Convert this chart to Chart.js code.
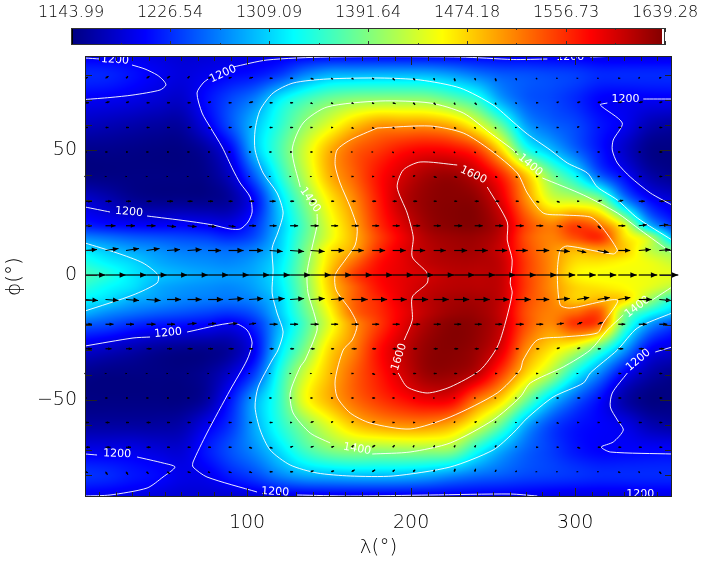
<!DOCTYPE html>
<html>
<head>
<meta charset="utf-8">
<style>
  html, body { margin: 0; padding: 0; background: #fff; }
  #wrap { position: relative; width: 707px; height: 565px; }
  canvas { position: absolute; left: 0; top: 0; }
</style>
<script src="https://cdn.jsdelivr.net/npm/chart.js@4"></script>
</head>
<body>
<div id="wrap">
  <canvas id="mapChart" width="707" height="565"></canvas>
  <canvas id="barChart" width="707" height="50"></canvas>
</div>
<script>
const colorTicks = [1143.99, 1226.54, 1309.09, 1391.64, 1474.18, 1556.73, 1639.28];

const lons = [0,15,30,45,60,75,90,105,120,135,150,165,180,195,210,225,240,255,270,285,300,315,330,345,360];
const lats = [88,80,70,60,50,40,30,20,15,10,5,0,-5,-10,-15,-20,-30,-40,-50,-60,-70,-80,-88];
const temps = [
  [1195,1195,1195,1190,1185,1185,1190,1192,1195,1197,1198,1198,1198,1198,1198,1198,1199,1199,1199,1198,1196,1192,1190,1190,1190],
  [1225,1222,1212,1200,1190,1197,1207,1215,1235,1270,1292,1295,1297,1297,1295,1283,1265,1250,1245,1240,1235,1225,1225,1225,1225],
  [1200,1198,1193,1185,1180,1210,1240,1270,1325,1360,1385,1399,1403,1403,1400,1380,1350,1285,1250,1240,1225,1205,1200,1200,1200],
  [1175,1170,1165,1160,1160,1195,1245,1300,1350,1400,1440,1480,1505,1505,1505,1490,1445,1375,1285,1255,1240,1215,1198,1170,1160],
  [1150,1150,1148,1146,1146,1160,1205,1300,1365,1430,1490,1530,1550,1570,1580,1575,1550,1470,1350,1300,1255,1215,1180,1150,1146],
  [1146,1146,1146,1146,1146,1150,1180,1255,1345,1420,1490,1530,1570,1598,1620,1625,1605,1560,1480,1390,1330,1250,1205,1165,1150],
  [1185,1170,1155,1150,1150,1150,1160,1210,1310,1390,1460,1510,1565,1610,1630,1635,1630,1590,1510,1440,1425,1395,1275,1210,1185],
  [1220,1210,1205,1203,1205,1200,1195,1230,1300,1370,1440,1495,1555,1595,1625,1635,1635,1610,1545,1515,1545,1520,1440,1297,1225],
  [1270,1260,1250,1245,1240,1235,1225,1245,1305,1375,1440,1490,1545,1585,1615,1625,1625,1605,1540,1515,1540,1555,1470,1420,1290],
  [1320,1300,1285,1275,1265,1262,1258,1270,1310,1385,1460,1497,1555,1590,1610,1620,1620,1600,1545,1510,1490,1500,1480,1425,1390],
  [1345,1325,1310,1290,1280,1275,1272,1285,1320,1390,1470,1525,1570,1590,1608,1615,1615,1605,1550,1510,1470,1465,1455,1445,1425],
  [1365,1345,1320,1302,1292,1285,1282,1290,1325,1395,1480,1545,1575,1590,1600,1610,1610,1605,1550,1510,1460,1450,1450,1445,1440],
  [1350,1330,1315,1290,1280,1275,1272,1285,1320,1390,1475,1530,1570,1590,1605,1612,1612,1605,1550,1510,1475,1465,1455,1440,1415],
  [1325,1312,1290,1280,1270,1265,1262,1272,1310,1385,1465,1530,1560,1590,1610,1620,1620,1605,1545,1515,1480,1490,1470,1405,1340],
  [1295,1275,1262,1252,1245,1238,1232,1250,1305,1375,1450,1525,1555,1585,1610,1625,1625,1603,1540,1515,1525,1535,1400,1340,1300],
  [1250,1240,1225,1215,1210,1205,1197,1225,1295,1365,1440,1505,1550,1590,1620,1635,1630,1605,1540,1510,1550,1530,1370,1280,1235],
  [1185,1175,1165,1155,1150,1150,1160,1205,1315,1390,1470,1515,1570,1605,1630,1635,1625,1590,1510,1465,1425,1360,1280,1205,1185],
  [1150,1146,1146,1146,1146,1155,1185,1240,1345,1430,1485,1530,1565,1598,1625,1625,1605,1545,1470,1410,1330,1265,1200,1165,1150],
  [1146,1146,1146,1146,1146,1160,1215,1290,1355,1445,1490,1525,1550,1570,1585,1580,1520,1470,1385,1305,1250,1210,1165,1146,1146],
  [1160,1160,1160,1160,1165,1195,1230,1290,1345,1395,1440,1480,1500,1508,1508,1490,1440,1375,1290,1240,1215,1205,1195,1170,1160],
  [1195,1195,1195,1188,1185,1215,1245,1275,1315,1360,1390,1402,1402,1405,1405,1398,1340,1290,1255,1235,1215,1205,1205,1205,1205],
  [1230,1225,1215,1208,1195,1198,1220,1240,1270,1290,1296,1300,1300,1298,1290,1275,1260,1250,1240,1235,1230,1225,1225,1225,1225],
  [1200,1198,1195,1190,1185,1185,1185,1190,1195,1197,1199,1199,1200,1200,1200,1200,1200,1200,1199,1196,1194,1194,1194,1196,1196]
];

// wind grid, arrow tails sit on these
const windLons = [1.25,13.75,26.25,38.75,51.25,63.75,76.25,88.75,101.25,113.75,126.25,138.75,151.25,163.75,176.25,188.75,201.25,213.75,226.25,238.75,251.25,263.75,276.25,288.75,301.25,313.75,326.25,338.75,351.25];
const windLats = [78.7,68.9,59,49.2,39.4,29.5,19.7,9.8,0,-9.8,-19.7,-29.5,-39.4,-49.2,-59,-68.9,-78.7];
const windU = [
  [3,3,2,3,3,2,3,3,4,3,3,3,2,2,2,2,2,1,1,1,1,1,1,1,1,1,2,1,2],
  [4,4,3,3,3,3,3,3,4,3,3,2,2,2,2,3,2,2,1,2,1,1,2,2,3,3,4,4,3],
  [3,3,3,3,3,3,3,3,3,3,3,2,2,2,2,2,2,1,2,1,1,1,2,2,2,2,3,3,3],
  [2,2,2,2,2,2,2,2,2,2,2,2,1,1,1,1,1,1,1,1,1,1,1,1,1,2,2,2,3],
  [1,1,1,1,1,1,1,1,1,1,1,1,1,2,2,2,2,3,3,3,2,2,2,1,1,2,3,3,3],
  [7,6,5,5,6,5,5,4,5,6,4,4,3,4,4,4,4,3,3,4,4,3,3,3,2,4,5,6,5],
  [7,10,9,9,9,9,8,7,7,7,8,8,7,7,7,7,7,7,8,8,8,8,7,6,4,3,7,8,9],
  [12,13,13,13,13,14,13,15,14,13,14,14,13,12,13,13,12,12,13,13,12,12,13,13,9,11,12,12,11],
  [20.5,20.5,20.5,20.5,20.5,20.5,20.5,20.5,20.5,20.5,20.5,20.5,20.5,20.5,20.5,20.5,20.5,20.5,20.5,20.5,20.5,20.5,20.5,18.5,18.5,18.5,18.5,18.5,19],
  [13,13,13,14,14,14,15,15,14,15,14,14,13,16,15,14,15,15,15,15,14,15,13,13,12,12,12,13,12],
  [7,8,8,9,8,9,8,9,7,8,8,8,7,7,7,7,7,7,7,7,7,8,7,7,5,5,7,8,8],
  [7,6,6,5,5,5,5,5,4,4,4,4,3,5,4,4,4,4,4,4,3,3,3,3,3,3,5,5,5],
  [1,1,1,1,1,1,1,1,1,1,1,1,1,2,3,3,3,3,3,2,2,2,2,1,1,1,3,3,3],
  [2,2,2,2,2,2,2,2,2,2,2,2,2,2,3,2,2,1,1,1,1,1,2,2,3,3,3,2,3],
  [4,4,3,4,3,3,3,3,3,3,2,3,2,2,3,2,2,1,1,2,1,1,2,2,2,2,3,3,3],
  [5,5,5,4,3,3,3,3,3,3,3,3,3,2,3,2,1,1,1,1,1,1,2,2,3,3,3,3,3],
  [3,2,2,2,3,3,2,3,3,3,3,3,3,3,3,2,2,1,1,1,1,1,1,1,1,1,2,1,2]
];
const windV = [
  [1,2,2,2,2,2,1,1,1,0,0,-1,-1,-1,-1,-2,-2,-2,-3,-2,-3,-2,-1,0,0,0,0,1,1],
  [0,1,1,0,0,0,1,0,1,0,0,-1,-1,-1,-1,-1,-2,-2,-2,-2,-2,-1,0,1,1,1,1,1,1],
  [0,0,0,0,0,0,-1,0,1,0,0,0,0,-1,-1,-1,-1,-1,-1,-1,-1,0,0,0,1,0,0,0,0],
  [0,0,0,0,0,0,0,0,0,0,0,0,0,0,0,-1,-1,-1,-1,-1,0,0,0,0,0,0,0,0,0],
  [0,0,0,0,0,0,0,0,0,0,0,0,0,0,0,0,1,-1,-1,0,-1,-1,0,0,0,0,0,0,0],
  [0,0,0,0,0,0,0,0,0,0,0,0,0,0,0,0,0,0,0,0,0,0,-1,-1,0,1,1,0,0],
  [0,0,0,0,-1,-1,-1,-1,0,0,0,0,0,0,0,0,0,0,0,0,0,0,0,-1,-2,-3,0,1,1],
  [1,2,2,2,1,1,0,0,0,-1,-1,-1,0,0,0,0,0,0,0,0,0,0,0,-1,-2,-2,0,1,1],
  [0,0,0,0,0,0,0,0,0,0,0,0,0,0,0,0,0,0,0,0,0,0,0,0,0,0,0,0,0],
  [-1,-1,-1,-1,0,0,0,1,1,1,1,1,1,0,0,0,0,0,0,0,0,0,0,1,2,2,2,0,-1],
  [0,0,0,0,0,1,1,1,1,0,0,0,0,0,0,0,0,0,0,0,0,0,0,1,2,2,0,0,0],
  [0,0,0,0,0,0,0,0,0,0,0,0,0,0,0,0,0,0,0,0,0,0,0,1,1,0,0,0,0],
  [0,0,0,0,0,0,0,0,0,0,0,0,0,0,-1,-1,0,0,0,0,0,0,0,0,0,0,0,0,0],
  [0,0,0,0,0,0,0,0,0,0,0,0,0,0,0,0,0,0,0,0,0,0,0,0,0,0,0,0,0],
  [0,0,0,0,0,0,0,0,0,0,0,1,1,1,1,0,0,0,1,1,1,0,0,-1,0,0,0,0,0],
  [0,0,0,0,0,0,0,0,-1,-1,1,1,1,2,2,2,2,2,2,2,2,1,0,0,-1,0,0,0,0],
  [-1,-3,-3,-2,-2,-1,-1,-1,-1,0,0,1,1,2,2,2,2,2,3,3,2,1,0,0,0,0,-1,-1,-2]
];

// contours as [lon, lat]
const contour1200 = [
  [[1.25,86.8],[10.4,86.4]],
  [[29.9,84],[37.8,82.4],[45.2,80],[48.8,78],[50.6,76],[47,74],[30.5,72],[16.5,71],[1.25,70.2]],
  [[91.5,83.2],[112.2,86],[148.8,87.2],[229.9,87.2],[262.2,86.2],[283,86.4]],
  [[309.2,87.2],[319,87.4]],
  [[76.3,78.4],[73.2,76.8],[69.5,72.8],[72.6,64.8],[77.5,59.2],[84.8,51.2],[91.5,42],[95.8,36.8],[101.9,31.2],[103.1,25.2],[100.6,21.2],[95.8,18.4],[89.7,18.4],[79.3,20],[63.5,21.6],[39.1,23.6]],
  [[16.5,25.2],[1.25,27.2]],
  [[359,70.4],[341.5,70.4]],
  [[319.6,68.8],[315.3,68],[328.7,60.8],[323.2,54],[322.6,50],[325.7,44.8],[333.6,39.2],[345.8,32.8],[359,28]],
  [[1.25,-28.4],[30.5,-25.2],[40.9,-24.8]],
  [[63.5,-22.8],[91.5,-19.2],[100,-22],[103.1,-27.2],[100,-34],[89.7,-46],[75.6,-63.2],[67.1,-74.8],[67.1,-76.8],[75.6,-80.8],[106.1,-86.8]],
  [[130.5,-88],[162.9,-88.4],[211.6,-88],[260.4,-87.6],[276.9,-88.4]],
  [[1.25,-71.6],[8.6,-72]],
  [[33,-72.8],[48.8,-75.2],[56.1,-76.8],[48.8,-80.8],[39.1,-85.2],[16.5,-88],[1.25,-88.4]],
  [[359,-28.8],[348.8,-30.8]],
  [[331.8,-39.2],[322.6,-47.2],[321.4,-52.8],[325.7,-58],[329.3,-62],[323.2,-66.8],[315.9,-68.8],[321.4,-70.8],[359,-71.6]]
];
const contour1300 = [
  [[1.25,12.8],[20.8,8.8],[36.6,4.8],[45.8,0],[45.2,-3.2],[30.5,-8],[1.25,-14.4]],
  [[359,14],[337.9,22.8],[325.7,30],[313.5,35.2],[307.4,40.8],[295.2,44.8],[284.8,50],[270.8,56.4],[262.2,61.2],[250,68],[229.9,74.8],[205.5,78],[181.1,78.8],[148.8,78.4],[128.1,76.8],[115.9,72.8],[108,66],[104.9,58],[104.9,50],[109.8,40.8],[118.3,32.8],[122,24.8],[118.9,17.2],[115.3,10.8],[115.9,2],[115.3,-7.2],[118.3,-15.2],[122,-22.8],[118.9,-30],[115.3,-34],[106.8,-44.8],[104.9,-52.8],[108,-62],[114.1,-70],[126.3,-76],[142.7,-79.2],[162.9,-80.4],[189.1,-80.4],[223.8,-76.8],[250,-70],[262.2,-63.2],[270.8,-57.2],[286.6,-48.8],[305,-43.2],[309.2,-39.2],[325.7,-30],[337.9,-21.2],[359,-15.2]]
];
const contour1400 = [
  [[359,8.8],[339.7,18],[325.7,24.8],[305,32],[280,38.8]],
  [[265.3,48],[262.2,50],[248.2,56.8],[231.8,64.8],[211.6,68.8],[181.1,69.6],[148.8,67.2],[134.2,60.8],[127.5,50],[132.4,35.2]],
  [[142.7,24.4],[142.7,20],[139.7,11.2],[136.6,0.8],[137.2,-7.2],[141.5,-16.8],[142.7,-22],[135.4,-34],[132.4,-36.8],[126.3,-47.2],[128.1,-55.2],[138.5,-63.2],[150.7,-67.2]],
  [[176.3,-71.6],[199.4,-70.8],[223.8,-67.2],[250,-58],[266.5,-48.8],[272.6,-43.2],[292.7,-36.8],[309.2,-30],[319.6,-22],[329.3,-16]],
  [[347,-10],[359,-4.8]]
];
const contour1500 = [
  [[179.3,58.8],[211.6,59.6],[231.8,56.8],[248.2,50],[264.7,40.8],[270.8,32.8],[280.5,24.8],[292.7,24],[309.2,23.2],[315.3,20],[325.7,10],[323.2,8.4],[295.2,11.6],[290.9,10],[289.1,0.8],[290.9,-12],[297,-13.2],[325.7,-10],[317.1,-19.2],[313.5,-23.2],[292.7,-24.8],[276.9,-26],[268.3,-34],[266.5,-38],[252.5,-47.2],[223.8,-56.8],[199.4,-61.6],[175,-59.2],[162.9,-55.2],[154.9,-48.8],[153.7,-42],[158.6,-30],[164.1,-26],[167.1,-20],[162.9,-14],[154.3,-6],[153.7,0],[159.8,6],[165.9,12],[167.1,18.8],[162.9,27.2],[156.7,36.8],[153.7,44],[154.9,50],[162.9,54],[179.3,58.8]]
];
const contour1600 = [
  [[246.4,35.2],[258.6,21.2],[258.6,14],[261.6,6],[260.4,-3.2],[261.6,-7.2],[257.4,-19.2],[252.5,-28.8],[242.1,-38],[223.8,-44.8],[209.8,-47.2],[197.6,-44.8],[192.1,-39.2]],
  [[195.8,-26],[200.7,-18],[200.7,-8.8],[209.8,-3.2],[209.8,0.8],[200.7,7.2],[201.3,15.2],[197.6,24.8],[191.5,35.2],[195.2,42],[205.5,45.2],[228.1,44]]
];

// text, lon, lat, rotation in degrees
const contourLabels = [
  ['1200',19.5,86,4],['1200',85.4,80.4,-25],['1200',330.6,70.4,0],['1200',297,87.2,0],
  ['1200',28.1,25.2,5],['1200',51.9,-23.2,-5],['1200',20.8,-71.6,2],['1200',117.1,-86.8,3],
  ['1200',339.7,-87.6,0],['1200',338.5,-34,-40],
  ['1400',138.5,30,55],['1400',272.6,44,40],['1400',337.9,-12.8,-38],['1400',167.1,-69.6,10],
  ['1600',237.9,40,25],['1600',192.7,-32.8,-72]
];

const FONT = 'DejaVu Sans';
const INK = '#000';

function jet(v) {
  const t = Math.min(1, Math.max(0, (v - colorTicks[0]) / (colorTicks[6] - colorTicks[0])));
  const c = d => Math.round(255 * Math.min(1, Math.max(0, 1.5 - Math.abs(4 * t - d))));
  return [c(3), c(2), c(1)];
}

// hermite shading between the read values, only used for painting the field
function shade(xs, ys, x) {
  let i = 0;
  while (i < xs.length - 2 && x > xs[i + 1]) i++;
  const h = xs[i + 1] - xs[i], t = (x - xs[i]) / h;
  const a = i > 0 ? i - 1 : i, b = i < xs.length - 2 ? i + 2 : i + 1;
  const m0 = (ys[i + 1] - ys[a]) / (xs[i + 1] - xs[a]);
  const m1 = (ys[b] - ys[i]) / (xs[b] - xs[i]);
  const t2 = t * t, t3 = t2 * t;
  return (2*t3 - 3*t2 + 1) * ys[i] + (t3 - 2*t2 + t) * h * m0 + (-2*t3 + 3*t2) * ys[i + 1] + (t3 - t2) * h * m1;
}

const heatmap = {
  id: 'heatmap',
  beforeDatasetsDraw(chart) {
    const { ctx, chartArea: a, scales: { x, y } } = chart;
    const w = Math.round(a.right - a.left), h = Math.round(a.bottom - a.top);
    const off = document.createElement('canvas');
    off.width = w; off.height = h;
    const octx = off.getContext('2d');
    const img = octx.createImageData(w, h);
    const latsUp = lats.slice().reverse();
    const rowsUp = temps.slice().reverse();
    for (let py = 0; py < h; py++) {
      const lat = y.getValueForPixel(a.top + py + 0.5);
      const col = lons.map((_, j) => shade(latsUp, rowsUp.map(r => r[j]), lat));
      for (let px = 0; px < w; px++) {
        const rgb = jet(shade(lons, col, x.getValueForPixel(a.left + px + 0.5)));
        const k = (py * w + px) * 4;
        img.data[k] = rgb[0]; img.data[k + 1] = rgb[1]; img.data[k + 2] = rgb[2]; img.data[k + 3] = 255;
      }
    }
    octx.putImageData(img, 0, 0);
    ctx.drawImage(off, a.left, a.top);
  }
};

const overlay = {
  id: 'overlay',
  afterDatasetsDraw(chart) {
    const { ctx, chartArea: a, scales: { x, y } } = chart;
    // contour labels
    ctx.save();
    ctx.beginPath();
    ctx.rect(a.left, a.top, a.right - a.left, a.bottom - a.top);
    ctx.clip();
    ctx.fillStyle = '#fff';
    ctx.font = '11px "' + FONT + '"';
    ctx.textAlign = 'center';
    ctx.textBaseline = 'middle';
    contourLabels.forEach(([s, lon, lat, rot]) => {
      ctx.save();
      ctx.translate(x.getPixelForValue(lon), y.getPixelForValue(lat));
      ctx.rotate(rot * Math.PI / 180);
      ctx.fillText(s, 0, 0);
      ctx.restore();
    });
    ctx.restore();

    // wind arrows, one unit is one pixel of arrow
    ctx.save();
    ctx.strokeStyle = '#000';
    ctx.fillStyle = '#000';
    ctx.lineWidth = 1.2;
    windLats.forEach((lat, r) => {
      windLons.forEach((lon, c) => {
        const x0 = x.getPixelForValue(lon), y0 = y.getPixelForValue(lat);
        const x1 = x0 + windU[r][c], y1 = y0 - windV[r][c];
        const len = Math.hypot(x1 - x0, y1 - y0);
        const head = Math.min(7, 1.5 + len * 0.35);
        const ang = Math.atan2(y1 - y0, x1 - x0);
        ctx.beginPath();
        ctx.moveTo(x0, y0);
        ctx.lineTo(x1, y1);
        ctx.stroke();
        ctx.beginPath();
        ctx.moveTo(x1 - head * Math.cos(ang - 0.42), y1 - head * Math.sin(ang - 0.42));
        ctx.lineTo(x1, y1);
        ctx.lineTo(x1 - head * Math.cos(ang + 0.42), y1 - head * Math.sin(ang + 0.42));
        ctx.closePath();
        ctx.fill();
      });
    });
    ctx.restore();

    // frame and inward ticks
    ctx.save();
    ctx.strokeStyle = '#222';
    ctx.lineWidth = 1;
    ctx.beginPath();
    for (let v = 10; v < 360; v += 10) {
      const px = Math.round(x.getPixelForValue(v)) + 0.5;
      const n = v % 100 === 0 ? 9 : 5;
      ctx.moveTo(px, a.top); ctx.lineTo(px, a.top + n);
      ctx.moveTo(px, a.bottom); ctx.lineTo(px, a.bottom - n);
    }
    for (let v = -80; v <= 80; v += 10) {
      const py = Math.round(y.getPixelForValue(v)) + 0.5;
      const n = v % 50 === 0 ? 12 : 7;
      ctx.moveTo(a.left, py); ctx.lineTo(a.left + n, py);
      ctx.moveTo(a.right, py); ctx.lineTo(a.right - n, py);
    }
    ctx.stroke();
    ctx.strokeRect(a.left + 0.5, a.top + 0.5, a.right - a.left - 1, a.bottom - a.top - 1);
    ctx.restore();
  }
};

function contourSets(groups) {
  return groups.map(seg => ({
    data: seg.map(p => ({ x: p[0], y: p[1] })),
    showLine: true,
    borderColor: 'rgba(255,255,255,0.92)',
    borderWidth: 1,
    pointRadius: 0,
    tension: 0.25,
    fill: false
  }));
}

new Chart(document.getElementById('mapChart'), {
  type: 'scatter',
  data: { datasets: contourSets([...contour1200, ...contour1300, ...contour1400, ...contour1500, ...contour1600]) },
  plugins: [heatmap, overlay],
  options: {
    responsive: false,
    devicePixelRatio: 1,
    animation: false,
    layout: { padding: { left: 0, top: 56, right: 35, bottom: 0 } },
    plugins: { legend: { display: false }, tooltip: { enabled: false } },
    scales: {
      x: {
        type: 'linear', min: 1.25, max: 359,
        afterFit(s) { s.height = 68; },
        grid: { display: false, drawTicks: false }, border: { display: false },
        ticks: { stepSize: 100, includeBounds: false, maxRotation: 0, padding: 15, color: INK, font: { family: FONT, size: 19, weight: '200' } },
        title: { display: true, text: 'λ(°)', color: INK, padding: { top: 0, bottom: 5 }, font: { family: FONT, size: 20, weight: '200' } }
      },
      y: {
        type: 'linear', min: -88.8, max: 87.6,
        afterFit(s) { s.width = 85; },
        grid: { display: false, drawTicks: false }, border: { display: false },
        ticks: {
          stepSize: 50, includeBounds: false, padding: 8, color: INK,
          font: { family: FONT, size: 19, weight: '200' },
          callback: v => String(v).replace('-', '\u2212')
        },
        title: { display: true, text: 'ϕ(°)', color: INK, padding: { top: 3, bottom: 0 }, font: { family: FONT, size: 20, weight: '200' } }
      }
    }
  }
});

const colorBar = {
  id: 'colorBar',
  beforeDatasetsDraw(chart) {
    const { ctx, chartArea: a, scales: { x } } = chart;
    for (let px = Math.round(a.left); px < a.right; px++) {
      const rgb = jet(x.getValueForPixel(px + 0.5));
      ctx.fillStyle = 'rgb(' + rgb.join(',') + ')';
      ctx.fillRect(px, a.top, 1, a.bottom - a.top);
    }
    ctx.fillStyle = '#000';
    ctx.fillRect(a.left, a.top, 2, a.bottom - a.top);
    ctx.fillStyle = '#fff';
    ctx.fillRect(a.right - 3, a.top, 3, a.bottom - a.top);
    ctx.strokeStyle = '#333';
    ctx.lineWidth = 1;
    ctx.beginPath();
    colorTicks.forEach((v, i) => {
      const px = Math.round(x.getPixelForValue(v)) + 0.5;
      ctx.moveTo(px, a.top); ctx.lineTo(px, a.top + 4);
      ctx.moveTo(px, a.bottom); ctx.lineTo(px, a.bottom - 4);
      if (i < colorTicks.length - 1) {
        const mid = Math.round(x.getPixelForValue((v + colorTicks[i + 1]) / 2)) + 0.5;
        ctx.moveTo(mid, a.top); ctx.lineTo(mid, a.top + 2);
        ctx.moveTo(mid, a.bottom); ctx.lineTo(mid, a.bottom - 2);
      }
    });
    ctx.stroke();
    ctx.strokeRect(a.left + 0.5, a.top + 0.5, a.right - a.left - 1, a.bottom - a.top - 1);
  }
};

new Chart(document.getElementById('barChart'), {
  type: 'scatter',
  data: { datasets: [] },
  plugins: [colorBar],
  options: {
    responsive: false,
    devicePixelRatio: 1,
    animation: false,
    layout: { padding: { left: 71, right: 42, top: 0, bottom: 5 } },
    plugins: { legend: { display: false }, tooltip: { enabled: false } },
    scales: {
      x: {
        type: 'linear', position: 'top', min: colorTicks[0], max: colorTicks[6],
        afterBuildTicks(s) { s.ticks = colorTicks.map(v => ({ value: v })); },
        afterFit(s) { s.height = 28; },
        grid: { display: false, drawTicks: false }, border: { display: false },
        ticks: {
          autoSkip: false, maxRotation: 0, padding: 6, color: INK,
          font: { family: FONT, size: 16, weight: '200' },
          callback: v => v.toFixed(2)
        }
      },
      y: { display: false, min: 0, max: 1 }
    }
  }
});
</script>
</body>
</html>
